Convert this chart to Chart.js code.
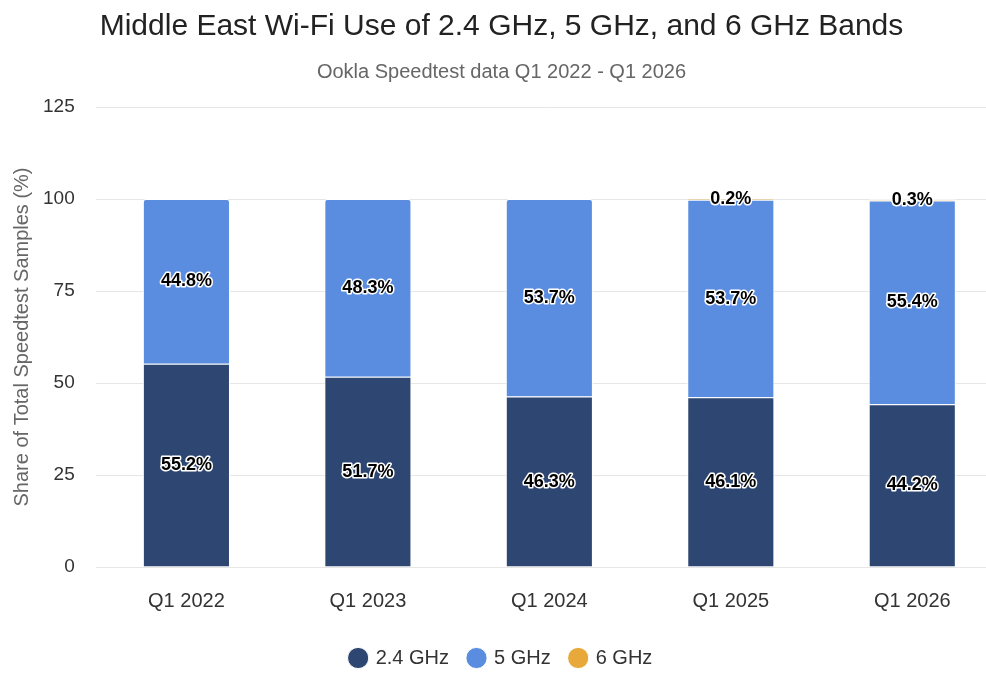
<!DOCTYPE html>
<html>
<head>
<meta charset="utf-8">
<script src="https://cdn.jsdelivr.net/npm/chart.js@4.4.1/dist/chart.umd.min.js"></script>
<style>
  html, body { margin: 0; padding: 0; background: #fff; overflow: hidden; }
  #wrap { width: 1006px; height: 675px; }
</style>
</head>
<body>
<div id="wrap"><canvas id="bands_chart"></canvas></div>
<script>
Chart.defaults.responsive = true;
Chart.defaults.maintainAspectRatio = false;
Chart.defaults.font.family = "'Liberation Sans', Arial, sans-serif";

const quarters = ["Q1 2022", "Q1 2023", "Q1 2024", "Q1 2025", "Q1 2026"];
const band24 = [55.2, 51.7, 46.3, 46.1, 44.2];
const band5 = [44.8, 48.3, 53.7, 53.7, 55.4];
const band6 = [0, 0, 0, 0.2, 0.3];
const yTicks = [0, 25, 50, 75, 100, 125];

// black labels with a white halo, centred in each segment
const segmentLabels = {
  id: "segmentLabels",
  afterDatasetsDraw(chart) {
    const { ctx } = chart;
    ctx.save();
    ctx.font = "bold 18px 'Liberation Sans', Arial, sans-serif";
    ctx.textAlign = "center";
    ctx.textBaseline = "middle";
    ctx.lineJoin = "round";
    chart.data.datasets.forEach((ds, i) => {
      const meta = chart.getDatasetMeta(i);
      meta.data.forEach((bar, j) => {
        const v = ds.data[j];
        if (!v) return;
        const txt = v.toFixed(1) + "%";
        const y = (bar.y + bar.base) / 2;
        ctx.strokeStyle = "#fff";
        ctx.lineWidth = 3;
        ctx.strokeText(txt, bar.x, y);
        ctx.fillStyle = "#000";
        ctx.fillText(txt, bar.x, y);
      });
    });
    ctx.restore();
  },
};

const ctx = document.getElementById("bands_chart").getContext("2d");

new Chart(ctx, {
  type: "bar",
  data: {
    labels: quarters,
    datasets: [
      { label: "2.4 GHz", data: band24, backgroundColor: "#2e4672" },
      { label: "5 GHz", data: band5, backgroundColor: "#5a8de0" },
      { label: "6 GHz", data: band6, backgroundColor: "#e8a83a" },
    ].map((d) => ({
      ...d,
      borderColor: "#fff",
      borderWidth: 1,
      borderRadius: 3,
      borderSkipped: "start",
      categoryPercentage: 1,
      barPercentage: 0.48,
    })),
  },
  options: {
    animation: false,
    layout: { padding: { left: 0, right: 3, top: 9, bottom: -3 } },
    plugins: {
      title: {
        display: true,
        text: "Middle East Wi-Fi Use of 2.4 GHz, 5 GHz, and 6 GHz Bands",
        color: "#222",
        font: { size: 30, weight: "normal" },
        padding: { top: 0, bottom: 15 },
      },
      subtitle: {
        display: true,
        text: "Ookla Speedtest data Q1 2022 - Q1 2026",
        color: "#666",
        font: { size: 20 },
        padding: { top: 0, bottom: 23 },
      },
      legend: {
        position: "bottom",
        labels: {
          usePointStyle: true,
          pointStyle: "circle",
          boxWidth: 15,
          boxHeight: 15,
          padding: 20,
          color: "#333",
          font: { size: 20 },
        },
      },
      tooltip: { enabled: false },
    },
    scales: {
      x: {
        stacked: true,
        grid: { display: false },
        border: { display: false },
        ticks: { color: "#333", font: { size: 20 }, padding: 14.5 },
      },
      y: {
        stacked: true,
        min: 0,
        max: 125,
        afterBuildTicks: (axis) => {
          axis.ticks = yTicks.map((v) => ({ value: v }));
        },
        grid: { color: "#e6e6e6", drawTicks: false },
        border: { display: false },
        ticks: { color: "#333", font: { size: 19 }, padding: 21 },
        title: {
          display: true,
          text: "Share of Total Speedtest Samples (%)",
          color: "#666",
          font: { size: 20 },
          padding: { top: 10, bottom: -12 },
        },
      },
    },
  },
  plugins: [segmentLabels],
});
</script>
</body>
</html>
